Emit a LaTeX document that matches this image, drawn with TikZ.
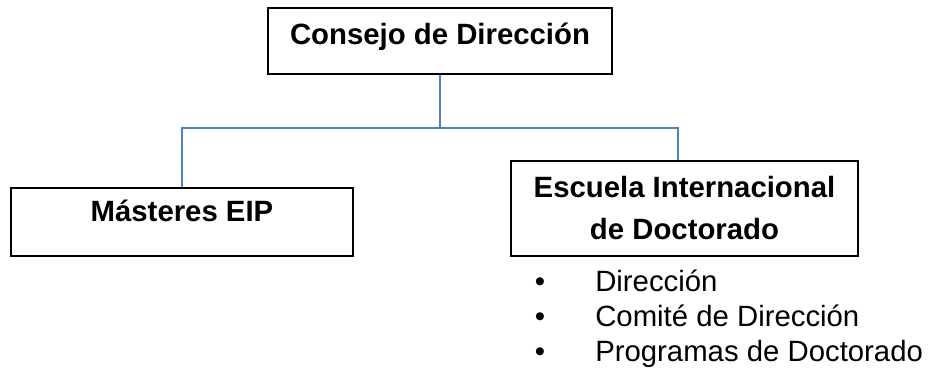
\documentclass[tikz,border=0pt]{standalone}
\usepackage{fontspec}
\setmainfont{Liberation Sans}
\definecolor{linkblue}{RGB}{79,129,189}

\begin{document}
\begin{tikzpicture}[x=0.75pt,y=-0.75pt,
  box/.style={draw=black, line width=1.9pt, inner sep=0pt, font=\bfseries\fontsize{22}{31.5}\selectfont},
  link/.style={draw=linkblue, line width=1.9pt},
  item/.style={anchor=base west, inner sep=0pt, font=\fontsize{22}{26}\selectfont},
  dot/.style={anchor=base, inner sep=0pt, font=\fontsize{22}{26}\selectfont}]
\useasboundingbox (0,0) rectangle (928,373);

%top box
\node[box, minimum width=258pt, text height=27.75pt, text depth=21.75pt] (consejo) at (440,41) {Consejo de Direcci\'on};

%the two boxes below
\node[box, minimum width=256.5pt, text height=25.5pt, text depth=25.5pt] (masters) at (182,222) {M\'asteres EIP};
\node[box, minimum width=260.25pt, minimum height=71.25pt, align=center] (escuela) at (684.5,208.5) {Escuela Internacional\\de Doctorado};

%blue connectors
\coordinate (bus) at (440,128);
\draw[link] (consejo.south) -- (bus);
\draw[link] (bus) -| (masters.north);
\draw[link] (bus) -| ([xshift=-4.9pt]escuela.north);

%list under the school
\node[dot] (dot1) at (540,292) {•};
\node[item] (item1) at (595,292) {Direcci\'on};
\node[dot] (dot2) at (540,327) {•};
\node[item] (item2) at (595,327) {Comit\'e de Direcci\'on};
\node[dot] (dot3) at (540,362) {•};
\node[item] (item3) at (595,362) {Programas de Doctorado};

\end{tikzpicture}
\end{document}
